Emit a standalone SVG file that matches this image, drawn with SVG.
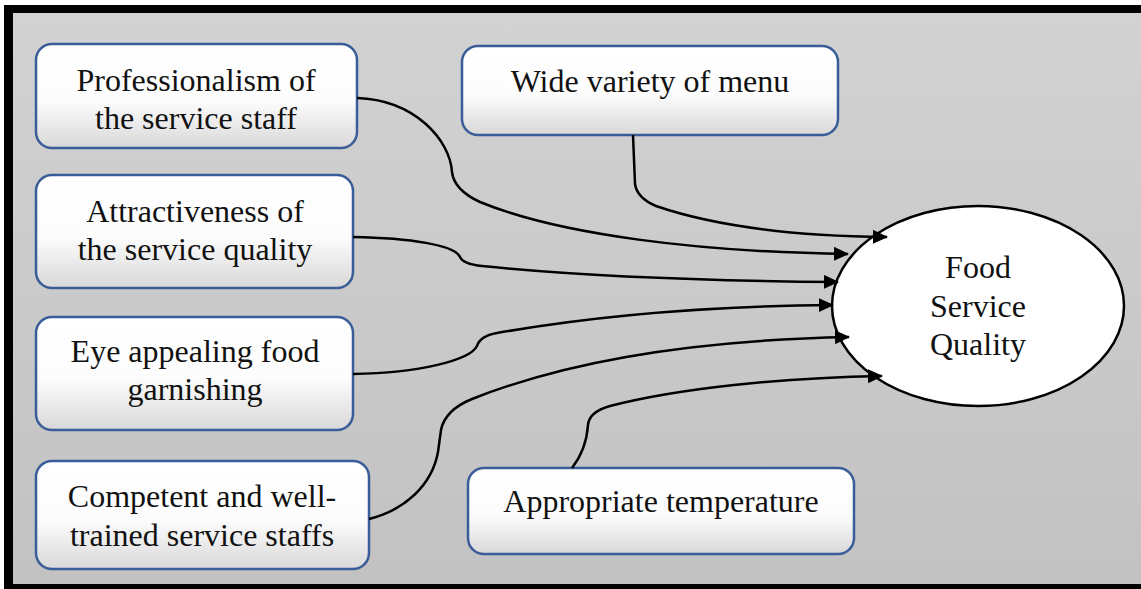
<svg xmlns="http://www.w3.org/2000/svg" width="1141" height="589" viewBox="0 0 1141 589">
  <defs>
    <linearGradient id="bg" x1="0" y1="0" x2="0" y2="1">
      <stop offset="0" stop-color="#d2d2d2"/>
      <stop offset="1" stop-color="#c2c2c2"/>
    </linearGradient>
    <linearGradient id="boxFill" x1="0" y1="0" x2="0" y2="1">
      <stop offset="0" stop-color="#ffffff"/>
      <stop offset="0.55" stop-color="#fcfcfc"/>
      <stop offset="1" stop-color="#d8d8d8"/>
    </linearGradient>
    <marker id="arrow" markerUnits="userSpaceOnUse" markerWidth="16" markerHeight="16" refX="14" refY="7" orient="auto">
      <path d="M0,0 L15,7 L0,14 Z" fill="#000"/>
    </marker>
    <style>
      .box { fill: url(#boxFill); stroke: #3a5d98; stroke-width: 2.5; }
      .lbl { font-family: "Liberation Serif", "Times New Roman", serif; font-size: 32px; fill: #111; text-anchor: middle; }
      .link { fill: none; stroke: #000; stroke-width: 2.5; marker-end: url(#arrow); }
    </style>
  </defs>

  <!-- frame and backdrop -->
  <rect x="0" y="0" width="1141" height="589" fill="#ffffff"/>
  <rect x="4" y="5" width="1137" height="584" fill="#000"/>
  <rect x="13" y="13" width="1128" height="571" fill="url(#bg)"/>

  <!-- source factors -->
  <g id="node-professionalism">
    <rect class="box" x="36" y="44" width="321" height="104" rx="16"/>
    <text class="lbl" x="196" y="91">Professionalism of</text>
    <text class="lbl" x="196" y="129">the service staff</text>
  </g>
  <g id="node-menu">
    <rect class="box" x="462" y="46" width="376" height="89" rx="16"/>
    <text class="lbl" x="650" y="92">Wide variety of menu</text>
  </g>
  <g id="node-attractiveness">
    <rect class="box" x="36" y="175" width="317" height="113" rx="16"/>
    <text class="lbl" x="195" y="222">Attractiveness of</text>
    <text class="lbl" x="195" y="260">the service quality</text>
  </g>
  <g id="node-garnishing">
    <rect class="box" x="36" y="317" width="317" height="113" rx="16"/>
    <text class="lbl" x="195" y="362">Eye appealing food</text>
    <text class="lbl" x="195" y="400">garnishing</text>
  </g>
  <g id="node-staff">
    <rect class="box" x="36" y="461" width="333" height="108" rx="16"/>
    <text class="lbl" x="202" y="507">Competent and well-</text>
    <text class="lbl" x="202" y="546">trained service staffs</text>
  </g>
  <g id="node-temperature">
    <rect class="box" x="468" y="468" width="386" height="86" rx="16"/>
    <text class="lbl" x="661" y="512">Appropriate temperature</text>
  </g>

  <!-- outcome -->
  <g id="node-quality">
    <ellipse cx="978" cy="306" rx="146" ry="100" fill="#fff" stroke="#000" stroke-width="2.5"/>
    <text class="lbl" x="978" y="278">Food</text>
    <text class="lbl" x="978" y="317">Service</text>
    <text class="lbl" x="978" y="355">Quality</text>
  </g>

  <!-- connectors, drawn last so the arrowheads sit over the ellipse outline -->
  <g id="connectors">
    <path class="link" d="M357,98 C415,100 450,140 452,172 Q454,190 480,202 C560,235 700,252 848,254"/>
    <path class="link" d="M633,135 L635,184 Q637,198 656,206 C720,228 800,236 887,237"/>
    <path class="link" d="M353,237 C410,238 455,245 460,257 Q463,264 482,266 C600,278 720,281 838,282"/>
    <path class="link" d="M353,374 C420,373 470,360 477,346 Q480,336 497,333 C600,315 720,306 833,305"/>
    <path class="link" d="M369,519 C405,510 432,485 438,452 L441,430 Q445,410 472,399 C570,360 700,340 849,337"/>
    <path class="link" d="M572,468 C582,455 587,440 588,425 Q589,412 610,406 C680,388 780,378 882,376"/>
  </g>
</svg>
